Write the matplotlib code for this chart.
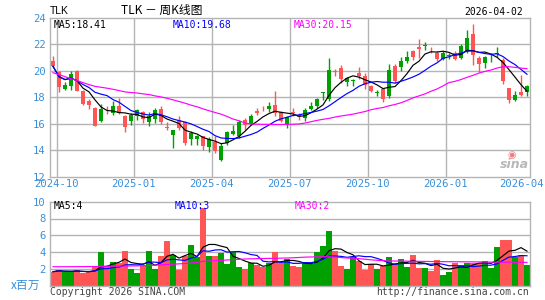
import numpy as np
import pandas as pd
import matplotlib
matplotlib.use("Agg")
import matplotlib.pyplot as plt
from matplotlib.transforms import ScaledTranslation

# ---------------- data (weekly, 80 weeks) ----------------
opens = [20.75, 19.90, 18.64, 18.82, 20.00, 18.44, 17.74, 17.18, 16.23, 17.20,
         16.80, 17.30, 16.60, 16.18, 16.60, 16.86, 16.10, 16.35, 17.13, 15.75,
         15.17, 16.30, 16.10, 14.84, 14.84, 15.04, 14.27, 14.59, 13.28, 14.54,
         15.25, 15.04, 16.30, 16.00, 16.98, 17.20, 17.10, 17.43, 16.86, 15.92,
         16.88, 16.68, 16.45, 17.10, 17.30, 18.35, 17.90, 19.97, 20.20, 19.12,
         19.22, 19.82, 19.62, 18.82, 18.34, 18.62, 18.11, 20.38, 20.25, 20.75,
         21.46, 21.76, 21.88, 21.65, 21.33, 20.88, 21.10, 21.33, 20.96, 21.46,
         22.80, 20.96, 20.58, 21.00, 21.24, 20.83, 18.69, 17.81, 18.36, 18.36]
highs = [21.08, 19.95, 19.12, 19.95, 20.08, 18.52, 17.86, 17.23, 17.51, 17.30,
         17.68, 17.94, 16.68, 16.80, 17.10, 16.98, 16.86, 17.18, 17.36, 16.10,
         15.55, 16.55, 16.20, 15.42, 15.15, 15.04, 15.00, 15.04, 14.54, 15.42,
         15.93, 16.30, 16.43, 16.75, 17.18, 17.36, 17.60, 18.50, 16.93, 16.60,
         17.18, 16.80, 17.18, 17.60, 17.94, 18.40, 20.96, 20.10, 20.45, 19.52,
         19.37, 20.28, 19.82, 18.94, 18.52, 18.70, 20.50, 20.50, 21.00, 21.46,
         21.58, 22.40, 22.20, 21.80, 21.46, 21.46, 21.33, 21.46, 22.01, 23.10,
         23.55, 21.08, 21.08, 21.33, 21.80, 20.96, 18.69, 18.44, 19.70, 18.94]
lows = [20.25, 18.36, 18.52, 18.52, 18.44, 17.43, 17.10, 15.80, 16.13, 16.75,
        16.68, 16.75, 15.35, 15.87, 16.30, 16.05, 15.85, 16.05, 15.97, 15.50,
        14.16, 15.55, 14.40, 14.42, 14.42, 13.99, 13.90, 13.80, 13.16, 14.42,
        15.17, 14.92, 15.55, 15.90, 16.68, 16.93, 16.90, 16.60, 16.10, 15.67,
        16.55, 16.30, 16.18, 17.05, 17.18, 17.80, 17.70, 19.57, 19.07, 18.85,
        18.82, 19.35, 18.62, 18.36, 18.06, 17.60, 17.94, 19.07, 19.95, 20.58,
        20.83, 20.96, 21.53, 21.33, 20.70, 20.83, 20.88, 20.83, 20.88, 21.33,
        20.45, 19.87, 20.20, 20.63, 21.03, 19.02, 17.56, 17.68, 18.06, 18.06]
closes = [20.33, 18.77, 18.89, 19.75, 18.49, 17.51, 17.38, 15.85, 17.10, 17.15,
          17.30, 16.80, 15.72, 16.62, 17.06, 16.35, 16.55, 17.06, 16.10, 15.70,
          15.55, 15.65, 14.57, 15.30, 15.04, 14.29, 14.84, 13.96, 14.34, 15.35,
          15.42, 16.10, 15.92, 16.60, 16.80, 17.15, 17.36, 16.80, 16.18, 16.50,
          16.82, 16.50, 17.00, 17.33, 17.86, 18.40, 20.08, 19.92, 19.35, 19.45,
          19.27, 19.57, 18.94, 18.50, 18.37, 17.86, 20.08, 19.20, 20.75, 21.00,
          21.00, 21.63, 21.92, 21.60, 20.88, 21.33, 21.18, 20.88, 21.84, 22.47,
          21.20, 20.53, 21.00, 21.05, 21.28, 19.25, 17.81, 18.19, 18.19, 18.82]
volumes = [1.67, 1.87, 1.63, 1.67, 1.87, 1.47, 1.67, 2.18, 4.05, 2.18,
           2.86, 2.66, 4.13, 1.98, 1.55, 2.46, 4.13, 2.02, 3.53, 5.36,
           3.65, 1.87, 3.53, 4.84, 3.45, 9.20, 3.53, 3.53, 3.85, 2.58,
           4.05, 2.18, 2.02, 2.66, 2.46, 2.26, 2.74, 4.05, 2.74, 3.17,
           2.34, 2.18, 2.86, 2.58, 4.05, 4.72, 6.55, 4.13, 2.34, 2.02,
           3.37, 2.98, 1.87, 2.54, 2.02, 2.34, 3.45, 2.58, 3.17, 2.26,
           3.65, 2.14, 2.14, 1.79, 3.06, 1.27, 1.67, 2.74, 2.46, 2.74,
           2.74, 2.74, 2.98, 2.06, 4.56, 5.50, 5.50, 3.45, 3.65, 2.46]
# 30-week averages (they need history before the window)
price_ma30 = [19.85, 19.70, 19.55, 19.40, 19.25, 19.10, 18.95, 18.82, 18.75, 18.68,
              18.60, 18.50, 18.40, 18.35, 18.32, 18.25, 18.20, 18.10, 18.02, 17.92,
              17.80, 17.68, 17.55, 17.40, 17.28, 17.12, 16.98, 16.85, 16.72, 16.55,
              16.35, 16.22, 16.05, 15.98, 15.96, 15.95, 15.95, 15.94, 15.94, 15.95,
              15.96, 15.98, 16.05, 16.15, 16.25, 16.33, 16.40, 16.50, 16.58, 16.65,
              16.72, 16.82, 16.92, 17.05, 17.15, 17.22, 17.35, 17.45, 17.58, 17.75,
              17.95, 18.10, 18.25, 18.45, 18.62, 18.85, 19.10, 19.20, 19.33, 19.50,
              19.65, 19.82, 19.95, 20.05, 20.20, 20.30, 20.30, 20.25, 20.20, 20.15]
vol_ma30 = [2.26, 2.26, 2.26, 2.26, 2.27, 2.27, 2.28, 2.28, 2.30, 2.31,
            2.32, 2.33, 2.34, 2.35, 2.36, 2.38, 2.40, 2.44, 2.48, 2.52,
            2.56, 2.60, 2.64, 2.70, 2.78, 2.90, 2.95, 2.98, 3.02, 3.06,
            3.10, 3.14, 3.18, 3.20, 3.22, 3.24, 3.25, 3.26, 3.28, 3.30,
            3.32, 3.36, 3.40, 3.42, 3.44, 3.45, 3.44, 3.40, 3.35, 3.30,
            3.26, 3.22, 3.15, 3.08, 3.02, 2.98, 2.95, 2.94, 2.93, 2.92,
            2.91, 2.90, 2.89, 2.88, 2.87, 2.86, 2.86, 2.85, 2.85, 2.84,
            2.84, 2.83, 2.82, 2.81, 2.80, 2.80, 2.79, 2.79, 2.78, 2.78]
month_labels = ["2024-10", "2025-01", "2025-04", "2025-07", "2025-10", "2026-01", "2026-04"]
price_ticks = [12, 14, 16, 18, 20, 22, 24]
vol_ticks = [2, 4, 6, 8, 10]

# ---------------- styling ----------------
RED = "#ff5555"
GREEN = "#00a000"
GRID = "#b4b4b4"
LBL = "#3a8fd8"
MONO = "DejaVu Sans Mono"

n = len(closes)
x = np.arange(n)
o = np.array(opens); c = np.array(closes); h = np.array(highs); l = np.array(lows)
v = np.array(volumes)
cols = [GREEN if cc >= oo else RED for oo, cc in zip(o, c)]

ma5 = pd.Series(c).rolling(5, min_periods=1).mean().values
ma10 = pd.Series(c).rolling(10, min_periods=1).mean().values
vma5 = pd.Series(v).rolling(5, min_periods=1).mean().values
vma10 = pd.Series(v).rolling(10, min_periods=1).mean().values

W, H = 545, 300
fig = plt.figure(figsize=(W / 100, H / 100), dpi=100)
fig.patch.set_facecolor("white")

def px_axes(left, top, right, bottom):
    return fig.add_axes([left / W, 1 - bottom / H, (right - left) / W, (bottom - top) / H])

ax1 = px_axes(50, 17.7, 530, 176.7)
ax2 = px_axes(50, 201.7, 530, 285.7)

tick_pos = [0.6, 13.5, 26.5, 39.5, 52.5, 65.5, 79.5]

for ax in (ax1, ax2):
    ax.set_xlim(-0.5, n - 0.5)
    for s in ax.spines.values():
        s.set_color(GRID)
        s.set_linewidth(1.0)
    ax.tick_params(length=0, colors=LBL)
    ax.set_facecolor("white")

# ---- price panel ----
ax1.set_ylim(12, 24)
ax1.set_yticks(price_ticks)
ax1.set_yticklabels([str(t) for t in price_ticks], fontsize=7.6, family=MONO, color=LBL)
ax1.tick_params(axis="y", pad=3)
ax1.set_xticks(tick_pos)
ax1.set_xticklabels(month_labels, fontsize=7.6, family=MONO, color=LBL)
ax1.tick_params(axis="x", pad=1.5)
labs = ax1.get_xticklabels()
labs[-1].set_transform(labs[-1].get_transform() + ScaledTranslation(-8 / 100, 0, fig.dpi_scale_trans))
for yv in price_ticks[1:-1]:
    ax1.axhline(yv, color=GRID, lw=1.0, zorder=0)
for xv in tick_pos[:-1]:
    ax1.axvline(xv, color=GRID, lw=1.0, zorder=0)

ax1.vlines(x, l, h, colors=cols, lw=1.0, zorder=2)
body_bot = np.minimum(o, c)
body_h = np.maximum(np.abs(c - o), 0.07)
ax1.bar(x, body_h, bottom=body_bot, width=0.8, color=cols, linewidth=0, zorder=3)

ax1.plot(x, ma5, color="black", lw=0.85, zorder=4)
ax1.plot(x, ma10, color="#0000ff", lw=0.85, zorder=4)
ax1.plot(x, price_ma30, color="#ff00ff", lw=0.85, zorder=4)

# ---- volume panel ----
ax2.set_ylim(0, 10)
ax2.set_yticks(vol_ticks)
ax2.set_yticklabels([str(t) for t in vol_ticks], fontsize=7.6, family=MONO, color=LBL)
ax2.tick_params(axis="y", pad=3)
ax2.set_xticks([])
for yv in vol_ticks[:-1]:
    ax2.axhline(yv, color=GRID, lw=1.0, zorder=0)
ax2.bar(x, v, width=0.85, color=cols, linewidth=0, zorder=2)
ax2.plot(x, vma5, color="black", lw=0.85, zorder=4)
ax2.plot(x, vma10, color="#0000ff", lw=0.85, zorder=4)
ax2.plot(x, vol_ma30, color="#ff00ff", lw=0.85, zorder=4)

# ---- texts ----
def ftext(px, py, s, **kw):
    fig.text(px / W, 1 - py / H, s, **kw)

ftext(50, 11, "TLK", fontsize=7.5, family="Liberation Sans", va="center", ha="left")
ftext(162, 10, "TLK － 周K线图", fontsize=8.5, family=["Noto Sans CJK SC", "DejaVu Sans"], va="center", ha="center")
ftext(523, 12, "2026-04-02", fontsize=7, family=MONO, va="center", ha="right")

ftext(54, 24.5, "MA5:18.41", fontsize=7, family=MONO, color="black", va="center")
ftext(173, 24.5, "MA10:19.68", fontsize=7, family=MONO, color="#0000ff", va="center")
ftext(294, 24.5, "MA30:20.15", fontsize=7, family=MONO, color="#ff00ff", va="center")

ftext(54, 206, "MA5:4", fontsize=7, family=MONO, color="black", va="center")
ftext(175, 206, "MA10:3", fontsize=7, family=MONO, color="#0000ff", va="center")
ftext(295, 206, "MA30:2", fontsize=7, family=MONO, color="#ff00ff", va="center")

ftext(11, 285, "x百万", fontsize=8.5, family=["Noto Sans CJK SC", "DejaVu Sans"], color=LBL, va="center", ha="left")
ftext(50, 292, "Copyright 2026 SINA.COM", fontsize=7, family=MONO, color="#444444", va="center", ha="left")
ftext(529, 292, "http://finance.sina.com.cn", fontsize=7, family=MONO, color="#444444", va="center", ha="right")

# sina watermark
ftext(514, 165, "sina", fontsize=9, family="DejaVu Sans", fontweight="bold", style="italic",
      color="#b8b8b8", va="center", ha="center")
ftext(512, 155, "◉", fontsize=7, family="DejaVu Sans", color="#f08080", va="center", ha="center")

fig.savefig("out.png", dpi=100, facecolor="white")
